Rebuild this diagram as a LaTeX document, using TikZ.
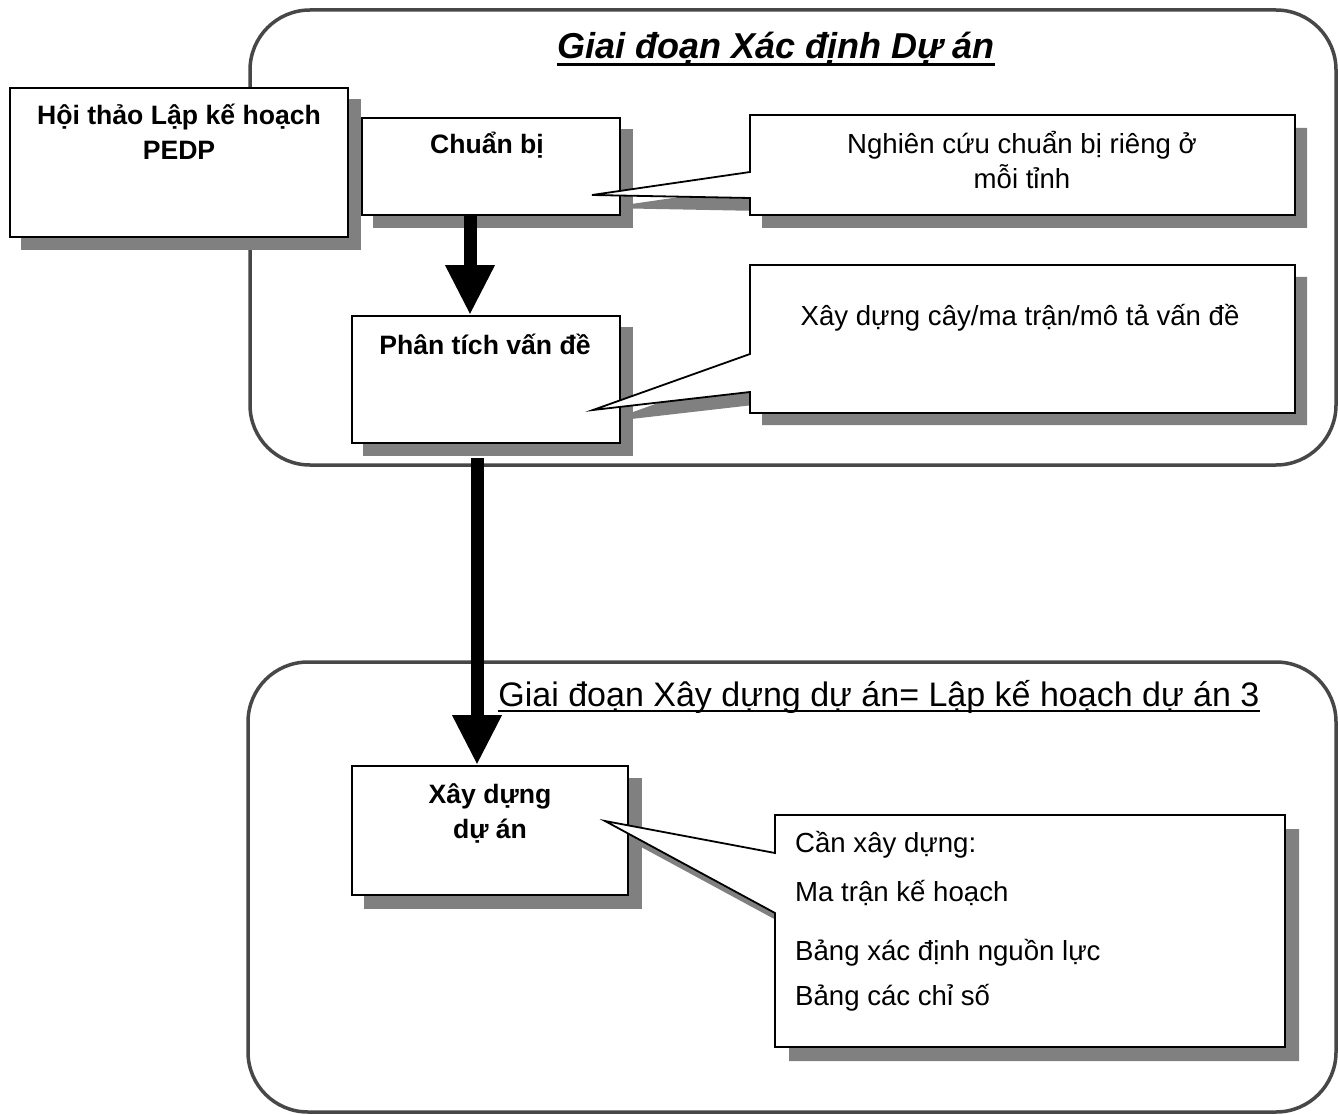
\documentclass[tikz,border=0pt]{standalone}
\usepackage{fontspec}
\setmainfont{Liberation Sans}
\usetikzlibrary{arrows.meta,calc}
\tikzset{
  frame/.style={draw=black!72, line width=3.5pt, rounded corners=60pt},
  boxsh/.style={fill=black!50, draw=none},
  box/.style={draw=black, line width=1.8pt, fill=white, inner sep=0pt},
  callout/.style={draw=black, line width=1.8pt, fill=white, line join=miter},
  lbl/.style={font=\fontsize{27.6}{35}\selectfont, align=center, inner sep=0pt},
  blbl/.style={font=\fontsize{26.6}{35}\selectfont\bfseries, align=center, inner sep=0pt},
  bigarrow/.style={line width=13pt, -{Triangle[width=46pt,length=50pt]}},
  calloutA/.style={insert path={(750,115) -- (1295,115) -- (1295,215) -- (750,215) -- (750,198) -- (592,195) -- (750,172) -- cycle}},
  calloutB/.style={insert path={(750,265) -- (1295,265) -- (1295,413) -- (750,413) -- (750,392) -- (593,410) -- (750,354) -- cycle}},
  calloutC/.style={insert path={(775,815) -- (1285,815) -- (1285,1047) -- (775,1047) -- (775,913) -- (605,821) -- (775,853) -- cycle}},
}
\begin{document}
\begin{tikzpicture}[x=1pt,y=-1pt]
\useasboundingbox (0,0) rectangle (1338,1115);
\fill[white] (0,0) rectangle (1338,1115);

% phase frames
\draw[frame] (250,10) rectangle (1336,465);
\draw[frame] (248,662) rectangle (1336,1112);

% titles
\node[font=\fontsize{36}{40}\selectfont\bfseries\itshape, anchor=base, inner sep=0pt] (t1) at (776,59) {Giai đoạn Xác định Dự án};
\draw[line width=3pt] ($(t1.base west)+(0,6)$) -- ($(t1.base east)+(0,6)$);
\node[font=\fontsize{34}{40}\selectfont, anchor=base, inner sep=0pt] (t2) at (879,706) {Giai đoạn Xây dựng dự án= Lập kế hoạch dự án 3};
\draw[line width=2.5pt] ($(t2.base west)+(0,5)$) -- ($(t2.base east)+(0,5)$);

% callout shadows (top frame)
\fill[boxsh, shift={(12,13)}, calloutA];
\fill[boxsh, shift={(12,12)}, calloutB];

% boxes top frame
\node[box, minimum width=258pt, minimum height=97pt] (cb) at (491,166.5) {};
\fill[boxsh] ($(cb.south west)+(12,12)$) rectangle ($(cb.north east)+(12,12)$);
\node[box, minimum width=258pt, minimum height=97pt] (cb2) at (491,166.5) {};

\node[box, minimum width=338pt, minimum height=149pt] (hoi) at (179,162.5) {};
\fill[boxsh] ($(hoi.south west)+(12,12)$) rectangle ($(hoi.north east)+(12,12)$);
\node[box, minimum width=338pt, minimum height=149pt] (hoi2) at (179,162.5) {};

\node[box, minimum width=268pt, minimum height=127pt] (pt) at (486,379.5) {};
\fill[boxsh] ($(pt.south west)+(12,12)$) rectangle ($(pt.north east)+(12,12)$);
\node[box, minimum width=268pt, minimum height=127pt] (pt2) at (486,379.5) {};

% callouts top frame
\path[callout, calloutA];
\path[callout, calloutB];

% texts top frame
\node[blbl] (hoiT) at (179,132) {Hội thảo Lập kế hoạch\\PEDP};
\node[blbl] (cbT) at (487,145) {Chuẩn bị};
\node[lbl] (c1T) at (1022,160) {Nghiên cứu chuẩn bị riêng ở\\mỗi tỉnh};
\node[blbl] (ptT) at (485,344) {Phân tích vấn đề};
\node[lbl] (c2T) at (1020,318) {Xây dựng cây/ma trận/mô tả vấn đề};

% bottom frame
\fill[boxsh, shift={(14,14)}, calloutC];
\node[box, minimum width=276pt, minimum height=129pt] (xd) at (490,830.5) {};
\fill[boxsh] ($(xd.south west)+(13,13)$) rectangle ($(xd.north east)+(13,13)$);
\node[box, minimum width=276pt, minimum height=129pt] (xd2) at (490,830.5) {};
\path[callout, calloutC];

\node[blbl] (xdT) at (490,813) {Xây dựng\\dự án};
\node[lbl, anchor=west] (c3a) at (795,845) {Cần xây dựng:};
\node[lbl, anchor=west] (c3b) at (795,893) {Ma trận kế hoạch};
\node[lbl, anchor=west] (c3c) at (795,953) {Bảng xác định nguồn lực};
\node[lbl, anchor=west] (c3d) at (795,998) {Bảng các chỉ số};

% arrows
\coordinate (a1) at (470,215);
\draw[bigarrow] (a1) -- (a1 |- pt.north);
\coordinate (a2) at (477,458);
\draw[bigarrow] (a2) -- (a2 |- xd.north);
\end{tikzpicture}
\end{document}
